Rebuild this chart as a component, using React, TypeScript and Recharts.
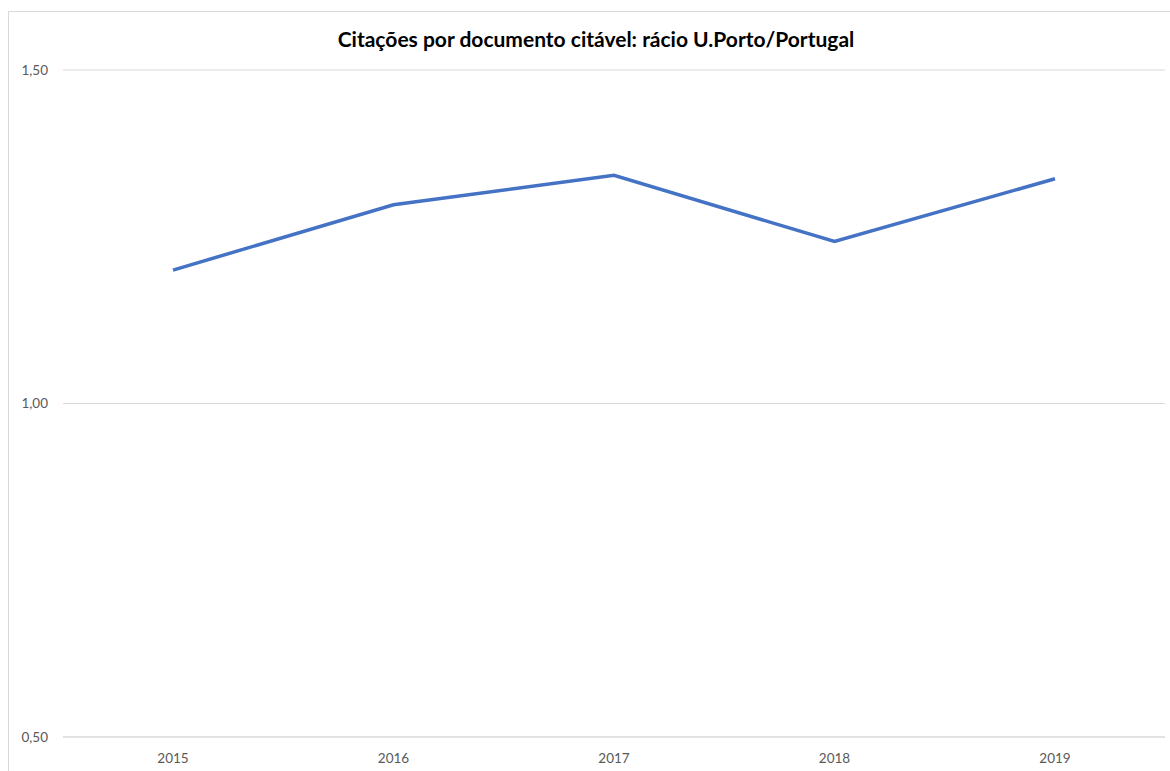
import React from 'react';
import { LineChart, Line, CartesianGrid, XAxis, YAxis } from 'recharts';

// Rácio U.Porto/Portugal: citações por documento citável
const years = ['2015', '2016', '2017', '2018', '2019'];
const ratio = [1.2, 1.298, 1.342, 1.243, 1.337];
const yTicks = [0.5, 1.0, 1.5];

const data = years.map((year, i) => ({ year, ratio: ratio[i] }));

const fmt = (v: number) => v.toFixed(2).replace('.', ',');

const App: React.FC = () => {
  return (
    <div
      style={{
        position: 'absolute',
        left: 8,
        top: 11,
        width: 1170,
        height: 771,
        border: '1px solid #d9d9d9',
        boxSizing: 'border-box',
        background: '#fff',
        fontFamily: 'Lato, "Open Sans", sans-serif',
      }}
    >
      <div
        style={{
          position: 'absolute',
          left: 0,
          width: 1174,
          top: 14,
          textAlign: 'center',
          fontSize: 21,
          fontWeight: 'bold',
          color: '#000',
        }}
      >
        Citações por documento citável: rácio U.Porto/Portugal
      </div>
      <LineChart
        width={1161}
        height={755}
        data={data}
        margin={{ top: 58, right: 5, left: 0, bottom: 0 }}
      >
        <CartesianGrid vertical={false} stroke="#d9d9d9" strokeWidth={1} />
        <XAxis
          dataKey="year"
          axisLine={{ stroke: '#d9d9d9' }}
          tickLine={false}
          tickMargin={10}
          height={30}
          padding={{ left: 110, right: 110 }}
          tick={{ fill: '#595959', fontSize: 13.5 }}
        />
        <YAxis
          domain={[0.5, 1.5]}
          ticks={yTicks}
          tickFormatter={fmt}
          axisLine={false}
          tickLine={false}
          width={54}
          tickMargin={9}
          tick={{ fill: '#595959', fontSize: 13.5 }}
        />
        <Line
          type="linear"
          dataKey="ratio"
          stroke="#4472C4"
          strokeWidth={3.5}
          dot={false}
          isAnimationActive={false}
        />
      </LineChart>
    </div>
  );
};

export default App;
